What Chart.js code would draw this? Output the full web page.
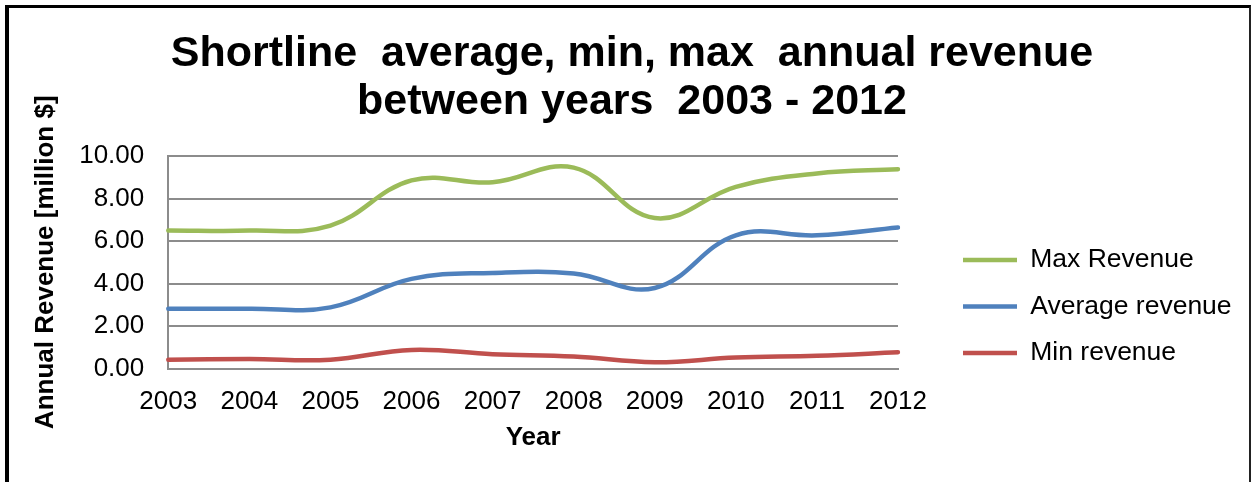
<!DOCTYPE html>
<html>
<head>
<meta charset="utf-8">
<script src="https://cdn.jsdelivr.net/npm/chart.js@4.4.1/dist/chart.umd.min.js"></script>
<style>
  html, body { margin: 0; padding: 0; background: #fff; overflow: hidden; }
  #wrap { position: relative; width: 1255px; height: 482px; }
  #chart { position: absolute; left: 0; top: 0; }
  /* outer frame of the original picture (bottom edge is cut off) */
  #frame { position: absolute; left: 5px; top: 5px; width: 1240px; height: 500px;
           border-left: 4px solid #000; border-top: 3px solid #000; border-right: 2px solid #222;
           pointer-events: none; }
</style>
</head>
<body>
<div id="wrap">
  <canvas id="chart" width="1255" height="482"></canvas>
  <div id="frame"></div>
</div>
<script>
// data
var years = ['2003', '2004', '2005', '2006', '2007', '2008', '2009', '2010', '2011', '2012'];
var maxRevenue = [6.50, 6.49, 6.72, 8.85, 8.76, 9.45, 7.08, 8.55, 9.18, 9.38];
var avgRevenue = [2.81, 2.82, 2.88, 4.22, 4.50, 4.47, 3.79, 6.27, 6.27, 6.64];
var minRevenue = [0.42, 0.45, 0.42, 0.88, 0.68, 0.57, 0.30, 0.52, 0.60, 0.77];
var yTicks = [0, 2, 4, 6, 8, 10];

var FONT = "'Liberation Sans', Arial, sans-serif";
var GRID = '#8c8c8c';

function series(label, data, color) {
    return {
        label: label,
        data: data,
        borderColor: color,
        backgroundColor: color,
        borderWidth: 4.5,
        borderCapStyle: 'round',
        pointRadius: 0,
        pointHoverRadius: 0,
        tension: 0.4,
        fill: false
    };
}

// the legend sits a bit away from the plot and lower down, as in the original
var legendPlace = {
    id: 'legendPlace',
    afterLayout: function (chart) {
        var l = chart.legend, a = chart.chartArea;
        var dx = a.right + 45 - l.left;
        var dy = 78;
        l.left += dx; l.right += dx;
        l.top += dy; l.bottom += dy;
    }
};

var ctx = document.getElementById('chart').getContext('2d');

var chart = new Chart(ctx, {
    type: 'line',
    data: {
        labels: years,
        datasets: [
            series('Max Revenue', maxRevenue, '#9BBB59'),
            series('Average revenue', avgRevenue, '#4F81BD'),
            series('Min revenue', minRevenue, '#C0504D')
        ]
    },
    plugins: [legendPlace],
    options: {
        responsive: false,
        animation: false,
        devicePixelRatio: 1,
        layout: { padding: { left: 20, right: 11, top: 0, bottom: 25 } },
        plugins: {
            title: {
                display: true,
                text: ['Shortline  average, min, max  annual revenue', 'between years  2003 - 2012'],
                color: '#000',
                font: { family: FONT, size: 43, weight: 'bold', lineHeight: 1.116 },
                padding: { top: 30, bottom: 30 }
            },
            legend: {
                position: 'right',
                labels: {
                    color: '#000',
                    font: { family: FONT, size: 26.5 },
                    usePointStyle: true,
                    pointStyle: 'line',
                    pointStyleWidth: 54,
                    padding: 20
                }
            },
            tooltip: { enabled: false }
        },
        scales: {
            x: {
                grid: { display: false, drawTicks: false },
                border: { display: true, color: GRID, width: 2 },
                ticks: { color: '#000', font: { family: FONT, size: 26 }, padding: 18, maxRotation: 0 },
                title: {
                    display: true, text: 'Year', color: '#000',
                    font: { family: FONT, size: 26, weight: 'bold' },
                    padding: { top: -14, bottom: 4 }
                },
                // keep a gap between the plot and the legend, like the original
                afterFit: function (scale) { scale.paddingRight = 357; }
            },
            y: {
                min: 0,
                max: 10,
                grid: { color: GRID, lineWidth: 2, drawTicks: false },
                border: { display: true, color: GRID, width: 2 },
                afterBuildTicks: function (scale) {
                    scale.ticks = yTicks.map(function (v) { return { value: v }; });
                },
                ticks: {
                    color: '#000',
                    font: { family: FONT, size: 26 },
                    padding: 24,
                    callback: function (v) { return Number(v).toFixed(2); }
                },
                title: {
                    display: true, text: 'Annual Revenue [million $]', color: '#000',
                    font: { family: FONT, size: 26, weight: 'bold' },
                    padding: { top: 10, bottom: -6 }
                }
            }
        }
    }
});
</script>
</body>
</html>
